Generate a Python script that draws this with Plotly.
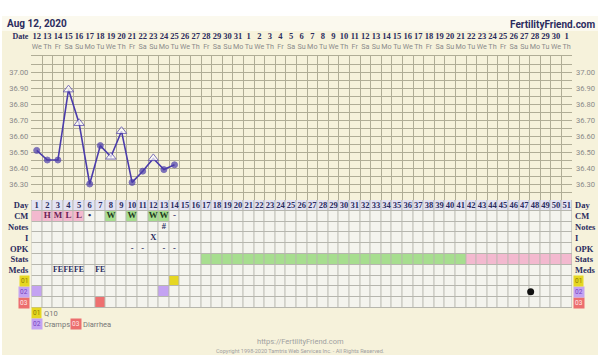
import plotly.graph_objects as go

W, H = 600, 358

# ---------------- data ----------------
days = list(range(1, 52))
date_labels = ["12", "13", "14", "15", "16", "17", "18", "19", "20", "21", "22", "23", "24", "25", "26", "27",
               "28", "29", "30", "31", "1", "2", "3", "4", "5", "6", "7", "8", "9", "10", "11", "12", "13",
               "14", "15", "16", "17", "18", "19", "20", "21", "22", "23", "24", "25", "26", "27", "28", "29",
               "30", "1"]
weekday_labels = ["We", "Th", "Fr", "Sa", "Su", "Mo", "Tu", "We", "Th", "Fr", "Sa", "Su", "Mo", "Tu", "We", "Th",
                  "Fr", "Sa", "Su", "Mo", "Tu", "We", "Th", "Fr", "Sa", "Su", "Mo", "Tu", "We", "Th", "Fr", "Sa",
                  "Su", "Mo", "Tu", "We", "Th", "Fr", "Sa", "Su", "Mo", "Tu", "We", "Th", "Fr", "Sa", "Su", "Mo",
                  "Tu", "We", "Th"]

temp_days = [1, 2, 3, 4, 5, 6, 7, 8, 9, 10, 11, 12, 13, 14]
temps = [36.51, 36.45, 36.45, 36.89, 36.68, 36.30, 36.54, 36.47, 36.63, 36.31, 36.38, 36.46, 36.39, 36.42]
temp_open = [False, False, False, True, True, False, False, True, True, False, False, True, False, False]

temp_grid_vals = [36.20, 36.25, 36.30, 36.35, 36.40, 36.45, 36.50, 36.55, 36.60, 36.65,
                  36.70, 36.75, 36.80, 36.85, 36.90, 36.95, 37.00, 37.05, 37.10]
temp_tick_text = ["", "", "36.30", "", "36.40", "", "36.50", "", "36.60", "",
                  "36.70", "", "36.80", "", "36.90", "", "37.00", "", ""]

row_labels = ["03", "02", "01", "Meds", "Stats", "OPK", "I", "Notes", "CM", "Day"]
row_ids = [0, 1, 2, 3, 4, 5, 6, 7, 8, 9]

cm_days = [2, 3, 4, 5, 6, 8, 10, 12, 13, 14]
cm_marks = ["H", "M", "L", "L", "•", "W", "W", "W", "W", "-"]
cm_pink_days = [1, 2, 3, 4, 5]
cm_green_days = [8, 10, 12, 13]
notes_days = [13]
notes_marks = ["#"]
int_days = [12]
int_marks = ["X"]
opk_days = [10, 11, 13, 14]
opk_marks = ["-", "-", "-", "-"]
meds_days = [3, 4, 5, 7]
meds_marks = ["FE", "FE", "FE", "FE"]
stats_green_days = list(range(17, 42))
stats_pink_days = list(range(42, 52))
sym01_days = [14]
sym02_days = [1, 13]
sym03_days = [7]
dot_day = [47.6]
dot_row = [1]

legend_items = [("01", "Q10"), ("02", "Cramps"), ("03", "Diarrhea")]

# ---------------- styles ----------------
NAVY = "#2b2c5e"
LINE = "#4b3cab"
CREAM = "#f6f2db"
PLOT_CREAM = "#f7f3d4"
SERIF = "Liberation Serif"
SANS = "Roboto"
box_bg = {"01": "#e6d722", "02": "#c4a3f2", "03": "#ec6e6e"}
box_fg = {"01": "#8d7c00", "02": "#7444c0", "03": "#ffe6e6"}

cell_colors = ["#f4f4ee", "#e3e3f3", "#f3b9cf", "#a7de8f", "#e6d722", "#c4a3f2", "#ee7070"]


def px_x(p):
    return p / W


def px_y(p):
    return 1 - p / H


XD = [px_x(31.4), px_x(572)]
TEMP_D = [px_y(200), px_y(56)]
TAB_D = [px_y(308), px_y(200)]
HEAD_D = [px_y(53), px_y(31)]

# ---------------- table matrix ----------------
z = [[0] * 51 for _ in range(10)]
for d in days:
    z[9][d - 1] = 1
for d in cm_pink_days:
    z[8][d - 1] = 2
for d in cm_green_days:
    z[8][d - 1] = 3
for d in stats_green_days:
    z[4][d - 1] = 3
for d in stats_pink_days:
    z[4][d - 1] = 2
for d in sym01_days:
    z[2][d - 1] = 4
for d in sym02_days:
    z[1][d - 1] = 5
for d in sym03_days:
    z[0][d - 1] = 6

n = len(cell_colors) - 1
cscale = []
for k, c in enumerate(cell_colors):
    cscale.append([max(0, (k - 0.5) / n), c])
    cscale.append([min(1, (k + 0.5) / n), c])

fig = go.Figure()

# table heatmap
fig.add_trace(go.Heatmap(x=days, y=row_ids, z=z, zmin=0, zmax=n, colorscale=cscale,
                         showscale=False, xgap=1, ygap=1, hoverinfo="skip",
                         xaxis="x2", yaxis="y2"))

# temperature line
fig.add_trace(go.Scatter(
    x=temp_days, y=temps, mode="lines+markers", xaxis="x", yaxis="y",
    line=dict(color=LINE, width=1.6),
    marker=dict(symbol=["triangle-up" if o else "circle" for o in temp_open],
                size=[9 if o else 6 for o in temp_open],
                color=["white" if o else LINE for o in temp_open],
                line=dict(color=LINE, width=1)),
    hoverinfo="skip", showlegend=False))
# invisible trace for right temp axis
fig.add_trace(go.Scatter(x=[1], y=[36.5], xaxis="x", yaxis="y4", mode="markers",
                         marker=dict(opacity=0), hoverinfo="skip", showlegend=False))
# invisible trace for right table axis
fig.add_trace(go.Scatter(x=[1], y=[5], xaxis="x2", yaxis="y5", mode="markers",
                         marker=dict(opacity=0), hoverinfo="skip", showlegend=False))


def text_trace(xs, ys, texts, size=8.5, color=NAVY, family=SERIF, bold=True):
    t = ["<b>%s</b>" % s if bold else s for s in texts]
    fig.add_trace(go.Scatter(x=xs, y=ys, text=t, mode="text", xaxis="x2", yaxis="y2",
                             textposition="middle center",
                             textfont=dict(size=size, color=color, family=family),
                             hoverinfo="skip", showlegend=False))


text_trace(days, [9] * 51, [str(d) for d in days], size=8.5)
cm_colors = ["#6a1f55" if d in cm_pink_days else "#1f3a1f" if d in cm_green_days else NAVY for d in cm_days]
text_trace(cm_days, [8] * len(cm_days), cm_marks, size=9, color=cm_colors)
text_trace(notes_days, [7] * len(notes_days), notes_marks, size=8.5)
text_trace(int_days, [6] * len(int_days), int_marks, size=8.5)
text_trace(opk_days, [5] * len(opk_days), opk_marks, size=8.5)
text_trace(meds_days, [3] * len(meds_days), meds_marks, size=7.8)

# black dot
fig.add_trace(go.Scatter(x=dot_day, y=dot_row, mode="markers", xaxis="x2", yaxis="y2",
                         marker=dict(color="#111", size=7), hoverinfo="skip", showlegend=False))

# header rows (date + weekday)
fig.add_trace(go.Scatter(x=days, y=[1.5] * 51, text=["<b>%s</b>" % s for s in date_labels], mode="text",
                         xaxis="x3", yaxis="y3", textfont=dict(size=8.5, color=NAVY, family=SERIF),
                         hoverinfo="skip", showlegend=False))
fig.add_trace(go.Scatter(x=days, y=[0.5] * 51, text=weekday_labels, mode="text",
                         xaxis="x3", yaxis="y3", textfont=dict(size=7.2, color="#8a8a8a", family=SANS),
                         hoverinfo="skip", showlegend=False))

xgrid = [d - 0.5 for d in days] + [51.5]
GRID = "#b0ad96"

fig.update_layout(
    width=W, height=H, autosize=False,
    margin=dict(l=0, r=0, t=0, b=0, pad=0),
    paper_bgcolor="white", plot_bgcolor=PLOT_CREAM,
    showlegend=False,
    xaxis=dict(domain=XD, anchor="y", range=[0.5, 51.5], tickvals=xgrid, showticklabels=False,
               ticks="", showgrid=True, gridcolor=GRID, gridwidth=1, zeroline=False,
               showline=True, mirror=True, linecolor=GRID, fixedrange=True),
    yaxis=dict(domain=TEMP_D, anchor="x", range=[36.20, 37.10], tickvals=temp_grid_vals,
               ticktext=temp_tick_text, ticks="", showgrid=True, gridcolor=GRID, gridwidth=1,
               zeroline=False, showline=False, tickfont=dict(size=7.6, color="#8a8a8a", family=SANS),
               ticklabelstandoff=2, automargin=False),
    yaxis4=dict(overlaying="y", side="right", anchor="x", range=[36.20, 37.10], tickvals=temp_grid_vals,
                ticktext=temp_tick_text, ticks="", showgrid=False, zeroline=False,
                tickfont=dict(size=7.6, color="#8a8a8a", family=SANS), ticklabelstandoff=3, automargin=False),
    xaxis2=dict(domain=XD, anchor="y2", range=[0.5, 51.5], showticklabels=False, ticks="",
                showgrid=False, zeroline=False, fixedrange=True),
    yaxis2=dict(domain=TAB_D, anchor="x2", range=[-0.5, 9.5], tickvals=row_ids,
                ticktext=["" if r.startswith("0") else "<b>%s</b>" % r for r in row_labels],
                ticks="", showgrid=False, zeroline=False,
                tickfont=dict(size=8.5, color=NAVY, family=SERIF), ticklabelstandoff=2, automargin=False),
    yaxis5=dict(overlaying="y2", side="right", anchor="x2", range=[-0.5, 9.5], tickvals=row_ids,
                ticktext=["" if r.startswith("0") else "<b>%s</b>" % r for r in row_labels],
                ticks="", showgrid=False, zeroline=False,
                tickfont=dict(size=8.5, color=NAVY, family=SERIF), ticklabelstandoff=2, automargin=False),
    xaxis3=dict(domain=XD, anchor="y3", range=[0.5, 51.5], showticklabels=False, ticks="",
                showgrid=False, zeroline=False),
    yaxis3=dict(domain=HEAD_D, anchor="x3", range=[0, 2], tickvals=[1.5], ticktext=["<b>Date</b>"],
                ticks="", showgrid=False, zeroline=False,
                tickfont=dict(size=8, color=NAVY, family=SERIF), ticklabelstandoff=2, automargin=False),
)

shapes = [
    # cream card
    dict(type="rect", xref="paper", yref="paper", x0=px_x(2), x1=px_x(598), y0=px_y(355), y1=px_y(16),
         fillcolor=CREAM, line=dict(width=0), layer="below"),
    dict(type="rect", xref="paper", yref="paper", x0=px_x(2), x1=px_x(598), y0=px_y(31), y1=px_y(16),
         fillcolor="#fbf9ee", line=dict(width=0), layer="below"),
    # header area same as card
    dict(type="rect", xref="x3 domain", yref="y3 domain", x0=0, x1=1, y0=0, y1=1,
         fillcolor=CREAM, line=dict(width=0), layer="below"),
    # table grid colour (shows through heatmap gaps)
    dict(type="rect", xref="x2 domain", yref="y2 domain", x0=0, x1=1, y0=0, y1=1,
         fillcolor="#b6b6ae", line=dict(width=0), layer="below"),
]
fig.update_layout(shapes=shapes)

ann = []
ann.append(dict(x=px_x(5), y=px_y(24), xref="paper", yref="paper", text="<b>Aug 12, 2020</b>", showarrow=False,
                xanchor="left", yanchor="middle", font=dict(size=10, color=NAVY, family=SANS)))
ann.append(dict(x=px_x(597), y=px_y(24), xref="paper", yref="paper", text="<b>FertilityFriend.com</b>",
                showarrow=False, xanchor="right", yanchor="middle", font=dict(size=10, color=NAVY, family=SANS)))
# coloured row-label boxes (both sides)
for r, lab in zip(row_ids, row_labels):
    if lab.startswith("0"):
        for xp, xa in ((30, "right"), (573, "left")):
            ann.append(dict(x=px_x(xp), y=r, xref="paper", yref="y2", text=lab, showarrow=False,
                            xanchor=xa, yanchor="middle", bgcolor=box_bg[lab], borderpad=1,
                            font=dict(size=6.5, color=box_fg[lab], family=SANS)))
# legend under the table
legend_pos = [(31, 313), (31, 324), (70, 324)]
for (code, name), (lx, ly) in zip(legend_items, legend_pos):
    ann.append(dict(x=px_x(lx), y=px_y(ly), xref="paper", yref="paper", text=code, showarrow=False,
                    xanchor="left", yanchor="middle", bgcolor=box_bg[code], borderpad=1,
                    font=dict(size=6.5, color=box_fg[code], family=SANS)))
    ann.append(dict(x=px_x(lx + 11), y=px_y(ly), xref="paper", yref="paper", text=name, showarrow=False,
                    xanchor="left", yanchor="middle", font=dict(size=7.5, color="#777", family=SANS)))
ann.append(dict(x=0.5, y=px_y(341), xref="paper", yref="paper", text="https://FertilityFriend.com",
                showarrow=False, xanchor="center", yanchor="middle", font=dict(size=7.5, color="#a0a0a0", family=SANS)))
ann.append(dict(x=0.5, y=px_y(350.5), xref="paper", yref="paper",
                text="Copyright 1998-2020 Tamtris Web Services Inc. - All Rights Reserved.",
                showarrow=False, xanchor="center", yanchor="middle", font=dict(size=5.5, color="#a0a0a0", family=SANS)))
fig.update_layout(annotations=ann)

fig.write_html("out.html", config={"responsive": False, "displayModeBar": False},
               post_script="document.body.style.margin='0';document.body.style.overflow='hidden';")
